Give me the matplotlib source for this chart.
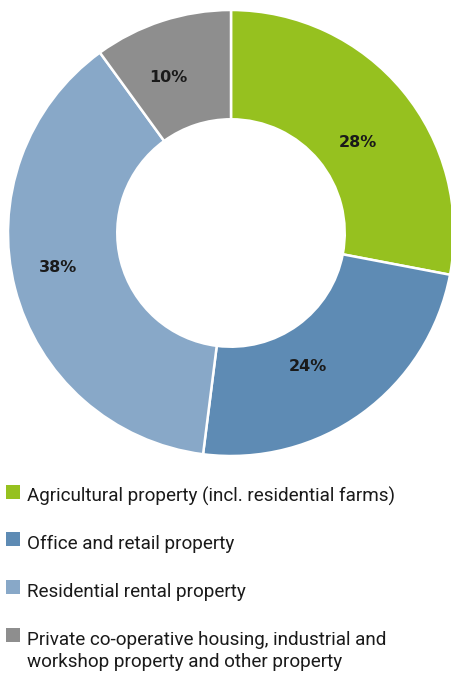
import numpy as np
import matplotlib.pyplot as plt
from matplotlib.patches import Rectangle

# portfolio split, clockwise from 12 o'clock
categories = [
    "Agricultural property (incl. residential farms)",
    "Office and retail property",
    "Residential rental property",
    "Private co-operative housing, industrial and\nworkshop property and other property",
]
shares = [28, 24, 38, 10]
colors = ["#96C11F", "#5E8BB4", "#88A8C8", "#8E8E8E"]

W, H = 451, 673
fig = plt.figure(figsize=(W / 100, H / 100), dpi=100)
fig.patch.set_facecolor("white")

# donut centred at (231, 233) px, outer radius 223 px
cx, cy, r = 231, 233, 223
ax = fig.add_axes([(cx - r) / W, (H - cy - r) / H, 2 * r / W, 2 * r / H])
wedges, _, pcts = ax.pie(
    shares, colors=colors, startangle=90, counterclock=False,
    radius=1.0, pctdistance=0.73, autopct=lambda p: f"{p:.0f}%",
    wedgeprops=dict(width=0.49, edgecolor="white", linewidth=1.8),
    textprops=dict(fontsize=11.5, fontweight="bold", color="#1a1a1a"),
)
ax.set_xlim(-1, 1)
ax.set_ylim(-1, 1)
ax.axis("off")

# nudge the percentage labels: (angle shift in degrees, radius)
nudges = [(-4, 0.70), (-6, 0.69), (-3, 0.79), (4, 0.75)]
for w, t, (dang, rad) in zip(wedges, pcts, nudges):
    mid = np.deg2rad((w.theta1 + w.theta2) / 2 + dang)
    t.set_position((rad * np.cos(mid), rad * np.sin(mid)))

# legend drawn by hand below the donut
rows_y = [485, 532, 580, 628]  # top of each swatch, px
for w, label, y in zip(wedges, categories, rows_y):
    fig.patches.append(Rectangle((6 / W, 1 - (y + 14) / H), 14 / W, 14 / H,
                                 transform=fig.transFigure,
                                 facecolor=w.get_facecolor(), edgecolor="none"))
    for i, line in enumerate(label.split("\n")):
        fig.text(27 / W, 1 - (y + 17 + 22 * i) / H, line, fontsize=13.6,
                 family="Roboto", color="#1a1a1a", va="baseline", ha="left")

fig.savefig("out.png", dpi=100)
